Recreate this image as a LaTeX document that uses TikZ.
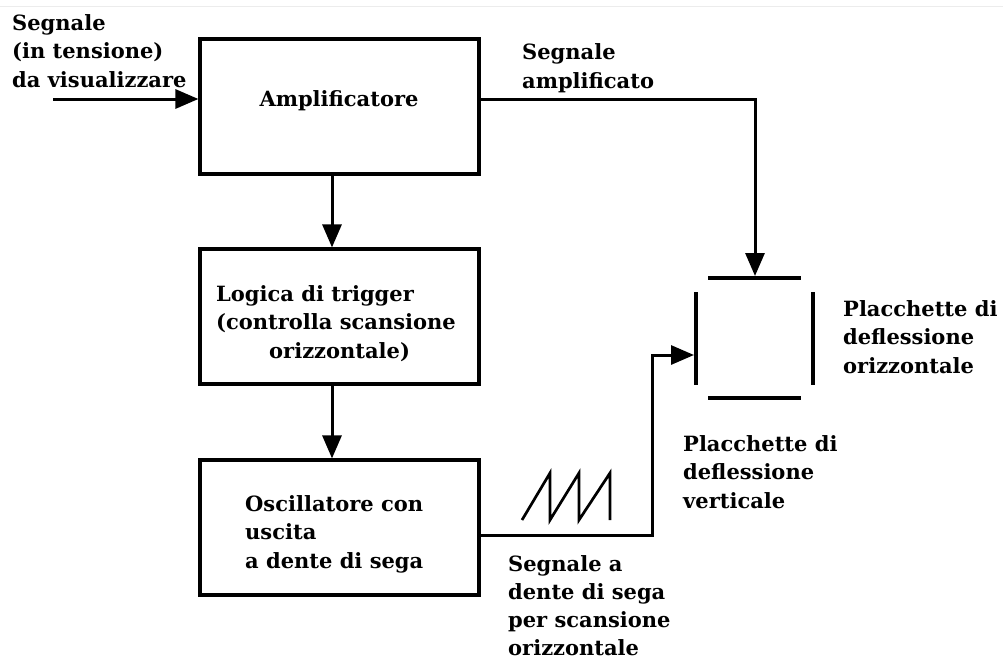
\documentclass[tikz,border=0pt]{standalone}
\usepackage{fontspec}
\setmainfont{DejaVu Serif}
\usetikzlibrary{arrows.meta}
\begin{document}
\begin{tikzpicture}[x=1pt,y=-1pt,
  blk/.style={draw, line width=3.2pt, minimum width=279pt, minimum height=135pt, inner sep=0pt},
  lbl/.style={font=\fontsize{21}{28.3}\selectfont\bfseries, inner sep=0pt, align=left, anchor=base west},
  wire/.style={line width=3pt, line join=miter},
  arr/.style={wire, -{Triangle[length=23pt,width=19pt]}},
  plate/.style={line width=4.8pt}]
\useasboundingbox (0,0) rectangle (1003,659);
\draw[gray!15, line width=1pt] (0,6) -- (1003,6);
% blocks
\node[blk] (amp) at (339.5,106.5) {};
\node[blk] (logic) at (339.5,316.5) {};
\node[blk] (osc) at (339.5,527.5) {};
% coordinates
\coordinate (src) at (53,99);
\coordinate (axis) at (332,0);
\coordinate (ptop) at (755,276);
\coordinate (pleft) at (694,355);
\coordinate (turn) at (652,0);
% plates
\draw[plate] (708,278) -- (801,278);
\draw[plate] (708,398) -- (801,398);
\draw[plate] (696,292) -- (696,385);
\draw[plate] (813,292) -- (813,385);
% connectors
\draw[arr] (src) -- (src -| amp.west);
\draw[arr] (amp.south -| axis) -- (logic.north -| axis);
\draw[arr] (logic.south -| axis) -- (osc.north -| axis);
\draw[arr] ([yshift=7.5pt]amp.east) -| (ptop);
\draw[arr] ([yshift=-7.5pt]osc.east) -| (turn |- pleft) -- (pleft);
% sawtooth
\draw[line width=2.7pt, line join=miter] (522,520) -- (550,473) -- (550,520) -- (579,473) -- (579,520) -- (610,473) -- (610,520);
% labels (anchored at the baseline of the last line)
\node[lbl] (tin) at (12,87) {Segnale\\(in tensione)\\da visualizzare};
\node[lbl, anchor=base] (tamp) at (339,106) {Amplificatore};
\node[lbl] (tampout) at (522,88) {Segnale\\amplificato};
\node[lbl] (tlogic) at (216,358) {Logica di trigger\\(controlla scansione\\\hspace*{53pt}orizzontale)};
\node[lbl] (tosc) at (245,568) {Oscillatore con\\uscita\\a dente di sega};
\node[lbl] (thor) at (843,373) {Placchette di\\deflessione\\orizzontale};
\node[lbl] (tver) at (683,508) {Placchette di\\deflessione\\verticale};
\node[lbl, font=\fontsize{21}{28}\selectfont\bfseries, text depth=0pt] (tsaw) at (508,655) {Segnale a\\dente di sega\\per scansione\\orizzontale};
\end{tikzpicture}
\end{document}
